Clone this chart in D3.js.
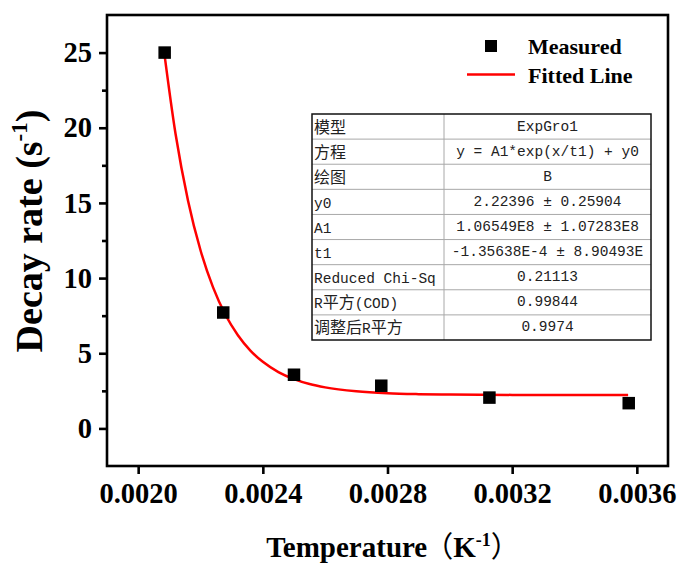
<!DOCTYPE html>
<html>
<head>
<meta charset="utf-8">
<script src="https://cdn.jsdelivr.net/npm/d3@7"></script>
<style>
  html, body { margin: 0; padding: 0; background: #fff; }
  svg { display: block; }
</style>
</head>
<body>
<svg id="chart" width="683" height="565"></svg>
<script>
// ---- Data ----
const measuredX = [0.002085, 0.002273, 0.002500, 0.002780, 0.003127, 0.003574];
const measuredY = [25.0, 7.71, 3.57, 2.84, 2.05, 1.68];

const fitX = [0.002083, 0.00212, 0.00216, 0.00220, 0.00224, 0.00228, 0.00232, 0.00236, 0.00240, 0.00245,
              0.00250, 0.00255, 0.00260, 0.00270, 0.00280, 0.00290, 0.00300, 0.00320, 0.00340, 0.003572];
const fitY = [25.1, 19.58, 15.15, 11.85, 9.40, 7.56, 6.20, 5.18, 4.43, 3.75,
              3.28, 2.95, 2.73, 2.47, 2.34, 2.28, 2.25, 2.23, 2.225, 2.224];

const xTicks = [0.0020, 0.0024, 0.0028, 0.0032, 0.0036];
const xTickLabels = ["0.0020", "0.0024", "0.0028", "0.0032", "0.0036"];
const yTicks = [0, 5, 10, 15, 20, 25];
const yMinorTicks = [2.5, 7.5, 12.5, 17.5, 22.5];

const legendLabels = ["Measured", "Fitted Line"];

const tableLeft = ["模型", "方程", "绘图", "y0", "A1", "t1", "Reduced Chi-Sq", "R平方(COD)", "调整后R平方"];
const tableRight = ["ExpGro1", "y = A1*exp(x/t1) + y0", "B", "2.22396 ± 0.25904", "1.06549E8 ± 1.07283E8",
                    "-1.35638E-4 ± 8.90493E", "0.21113", "0.99844", "0.9974"];

// ---- Layout ----
const svg = d3.select("#chart");
const L = 107, R = 668, T = 15, B = 466;
const x = d3.scaleLinear().domain([0.0019, 0.0037]).range([L, R]);
const y = d3.scaleLinear().domain([-2.5, 27.5]).range([B, T]);

const serif = "'Liberation Serif', 'Times New Roman', serif";

// Frame
svg.append("rect").attr("x", L).attr("y", T).attr("width", R - L).attr("height", B - T)
  .attr("fill", "none").attr("stroke", "#000").attr("stroke-width", 2.6);

// X axis
const xAxis = d3.axisBottom(x).tickValues(xTicks).tickSize(8).tickPadding(9)
  .tickFormat((d, i) => xTickLabels[i]);
const gx = svg.append("g").attr("transform", `translate(0,${B})`).call(xAxis);
gx.select(".domain").remove();
gx.selectAll(".tick line").attr("stroke", "#000").attr("stroke-width", 2.6);
gx.selectAll(".tick text").attr("font-family", serif).attr("font-weight", "bold")
  .attr("font-size", 28.5).attr("fill", "#000");

// Y axis
const yAxis = d3.axisLeft(y).tickValues(yTicks).tickSize(8).tickPadding(7);
const gy = svg.append("g").attr("transform", `translate(${L},0)`).call(yAxis);
gy.select(".domain").remove();
gy.selectAll(".tick line").attr("stroke", "#000").attr("stroke-width", 2.6);
gy.selectAll(".tick text").attr("font-family", serif).attr("font-weight", "bold")
  .attr("font-size", 28.5).attr("fill", "#000");

const yMinor = d3.axisLeft(y).tickValues(yMinorTicks).tickSize(5).tickFormat("");
const gym = svg.append("g").attr("transform", `translate(${L},0)`).call(yMinor);
gym.select(".domain").remove();
gym.selectAll(".tick line").attr("stroke", "#000").attr("stroke-width", 2.6);

// Axis titles
const xt = svg.append("text").attr("x", 393).attr("y", 557).attr("text-anchor", "middle")
  .attr("font-family", serif).attr("font-weight", "bold").attr("font-size", 29).attr("fill", "#000");
xt.append("tspan").text("Temperature");
xt.append("tspan").attr("font-family", "'Noto Sans CJK SC'").attr("font-weight", "normal").attr("dx", -3).text("（");
xt.append("tspan").text("K");
xt.append("tspan").attr("font-size", 18).attr("dy", -11).text("-1");
xt.append("tspan").attr("dy", 11).attr("font-family", "'Noto Sans CJK SC'").attr("font-weight", "normal").text("）");

const yt = svg.append("text").attr("transform", "translate(42,231) rotate(-90)").attr("text-anchor", "middle")
  .attr("font-family", serif).attr("font-weight", "bold").attr("font-size", 38).attr("fill", "#000");
yt.append("tspan").text("Decay rate (s");
yt.append("tspan").attr("font-size", 23).attr("dy", -15).text("-1");
yt.append("tspan").attr("dy", 15).text(")");

// Fitted line
const fitData = fitX.map((d, i) => [d, fitY[i]]);
svg.append("path").datum(fitData)
  .attr("d", d3.line().x(d => x(d[0])).y(d => y(d[1])).curve(d3.curveMonotoneX))
  .attr("fill", "none").attr("stroke", "#ff0000").attr("stroke-width", 2.5);

// Measured points
const sq = 12.5;
svg.append("g").selectAll("rect").data(measuredX.map((d, i) => [d, measuredY[i]])).join("rect")
  .attr("x", d => x(d[0]) - sq / 2).attr("y", d => y(d[1]) - sq / 2)
  .attr("width", sq).attr("height", sq).attr("fill", "#000");

// Legend
const lg = svg.append("g");
lg.append("rect").attr("x", 485).attr("y", 40).attr("width", 12).attr("height", 12).attr("fill", "#000");
lg.append("line").attr("x1", 467).attr("x2", 515).attr("y1", 74.5).attr("y2", 74.5)
  .attr("stroke", "#ff0000").attr("stroke-width", 2.5);
lg.selectAll("text").data(legendLabels).join("text")
  .attr("x", 528).attr("y", (d, i) => 54 + i * 29)
  .attr("font-family", serif).attr("font-weight", "bold").attr("font-size", 22).attr("fill", "#000")
  .text(d => d);

// Table
const tL = 312, tR = 651, tT = 114, tB = 340, tMid = 444;
const rowH = (tB - tT) / tableLeft.length;
const tg = svg.append("g");
for (let i = 1; i < tableLeft.length; i++) {
  tg.append("line").attr("x1", tL).attr("x2", tR).attr("y1", tT + i * rowH).attr("y2", tT + i * rowH)
    .attr("stroke", "#a8a8a8").attr("stroke-width", 1);
}
tg.append("line").attr("x1", tMid).attr("x2", tMid).attr("y1", tT).attr("y2", tB)
  .attr("stroke", "#a8a8a8").attr("stroke-width", 1);
tg.append("rect").attr("x", tL).attr("y", tT).attr("width", tR - tL).attr("height", tB - tT)
  .attr("fill", "none").attr("stroke", "#111").attr("stroke-width", 1.5);

const cjk = /[\u3000-\u9fff\uff00-\uffef]/;
function addMixed(sel, str) {
  let runs = [];
  for (const ch of str) {
    const isC = cjk.test(ch);
    if (runs.length && runs[runs.length - 1].c === isC) runs[runs.length - 1].t += ch;
    else runs.push({ c: isC, t: ch });
  }
  runs.forEach(r => {
    const ts = sel.append("tspan").text(r.t);
    if (r.c) ts.attr("font-family", "'Noto Sans CJK SC'").attr("font-size", 16);
  });
}
tableLeft.forEach((s, i) => {
  const t = tg.append("text").attr("x", 314).attr("y", tT + i * rowH + rowH / 2 + 6)
    .attr("font-family", "'Liberation Mono', monospace").attr("font-size", 14.5).attr("fill", "#222")
    .attr("xml:space", "preserve");
  addMixed(t, s);
});
tableRight.forEach((s, i) => {
  const t = tg.append("text").attr("x", (tMid + tR) / 2).attr("y", tT + i * rowH + rowH / 2 + 4)
    .attr("text-anchor", "middle")
    .attr("font-family", "'Liberation Mono', monospace").attr("font-size", 14.5).attr("fill", "#222");
  addMixed(t, s);
});
</script>
</body>
</html>
